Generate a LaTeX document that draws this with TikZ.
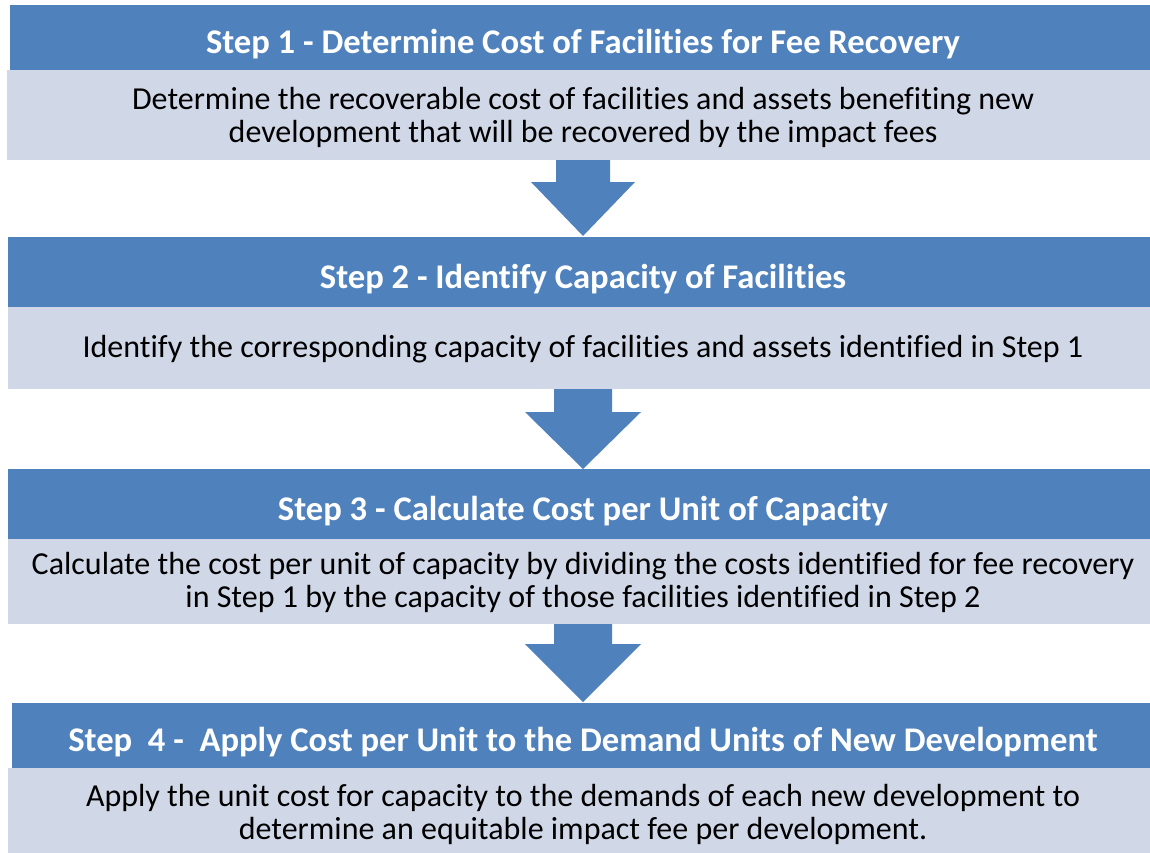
\documentclass[tikz,border=0pt]{standalone}
\usepackage{fontspec}
\setmainfont{Carlito}[Ligatures=NoCommon]
\definecolor{hdrblue}{HTML}{4F81BD}
\definecolor{lightbox}{HTML}{D0D8E8}
\begin{document}
\begin{tikzpicture}[x=1pt,y=-1pt,
  hdrbox/.style={fill=hdrblue,draw=none},
  bodybox/.style={fill=lightbox,draw=none},
  hdrtext/.style={text=white,font=\fontsize{34.6}{40}\selectfont\bfseries,inner sep=0pt,anchor=base},
  bodytext/.style={text=black,font=\fontsize{32}{33}\selectfont,align=center,inner sep=0pt,anchor=base},
  blockarrow/.style={fill=hdrblue,draw=none}]
\useasboundingbox (0,0) rectangle (1150,852);
\begin{scope}
\clip (0,0) rectangle (1150,852);
% Step 1
\fill[hdrbox] (10,5) rectangle (1160,70);
\fill[bodybox] (7,70) rectangle (1160,160);
% Step 2
\fill[hdrbox] (8,237) rectangle (1160,307);
\fill[bodybox] (8,307) rectangle (1160,389);
% Step 3
\fill[hdrbox] (8,469) rectangle (1160,539);
\fill[bodybox] (8,539) rectangle (1160,624);
% Step 4
\fill[hdrbox] (12,703) rectangle (1160,768);
\fill[bodybox] (8,768) rectangle (1160,860);
\end{scope}
% texts (multi-line nodes are placed by the baseline of their last line)
\node[hdrtext] (h1) at (583,53) {Step 1 - Determine Cost of Facilities for Fee Recovery};
\node[bodytext] (b1) at (583,142) {Determine the recoverable cost of facilities and assets benefiting new\\development that will be recovered by the impact fees};
\node[hdrtext] (h2) at (583,288) {Step 2 - Identify Capacity of Facilities};
\node[bodytext] (b2) at (583,357) {Identify the corresponding capacity of facilities and assets identified in Step 1};
\node[hdrtext] (h3) at (583,520) {Step 3 - Calculate Cost per Unit of Capacity};
\node[bodytext] (b3) at (583,607) {Calculate the cost per unit of capacity by dividing the costs identified for fee recovery\\in Step 1 by the capacity of those facilities identified in Step 2};
\node[hdrtext] (h4) at (583,751) {Step\ \ 4 -\ \ Apply Cost per Unit to the Demand Units of New Development};
\node[bodytext] (b4) at (583,839) {Apply the unit cost for capacity to the demands of each new development to\\determine an equitable impact fee per development.};
% block arrows
\fill[blockarrow] (556,160) -- (610,160) -- (610,182) -- (635,182) -- (583,236) -- (531,182) -- (556,182) -- cycle;
\fill[blockarrow] (554,389) -- (612,389) -- (612,412) -- (641,412) -- (583,469) -- (525,412) -- (554,412) -- cycle;
\fill[blockarrow] (554,624) -- (612,624) -- (612,644) -- (641,644) -- (583,702) -- (525,644) -- (554,644) -- cycle;
\end{tikzpicture}
\end{document}
